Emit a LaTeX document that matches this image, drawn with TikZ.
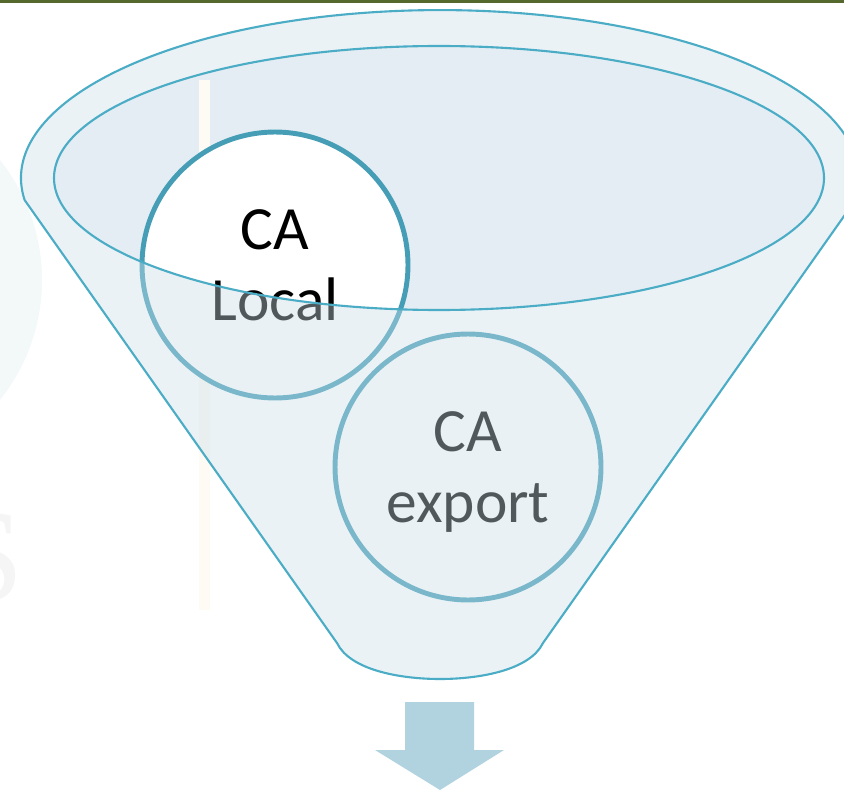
\documentclass[tikz,border=0pt]{standalone}
\usepackage{fontspec}
\setmainfont{Carlito}
\newfontfamily\wmfont{Liberation Serif}
\definecolor{topbar}{RGB}{85,104,45}
\definecolor{funnelline}{RGB}{75,172,198}
\definecolor{innerfill}{RGB}{228,237,243}
\definecolor{frontfill}{RGB}{202,222,232}
\definecolor{bubbleline}{RGB}{69,158,182}
\definecolor{arrowfill}{RGB}{176,211,223}
\definecolor{bgcircle}{RGB}{243,248,249}
\definecolor{faintletter}{RGB}{245,245,245}
\definecolor{faintbar}{RGB}{254,251,244}
\begin{document}
\begin{tikzpicture}[x=0.02cm,y=-0.02cm,
  rimline/.style={draw=funnelline, line width=1.2pt},
  bubble/.style={circle, draw=bubbleline, fill=white, line width=2.8pt,
    minimum size=5.32cm, inner sep=0pt, align=center,
    font=\fontsize{35}{40}\selectfont, text depth=0pt},
  downarrow/.style={fill=arrowfill}]
\useasboundingbox (0,0) rectangle (844,790);
\begin{scope}
\clip (0,0) rectangle (844,790);
% faint background decoration
\fill[bgcircle] (-150,280) circle (192);
\node[font=\wmfont\fontsize{75}{75}\selectfont, text=faintletter, inner sep=0pt] (wm) at (-13,558) {S};
% header rule
\fill[topbar] (0,0) rectangle (844,3);
% funnel opening
\fill[innerfill] (439,178) ellipse [x radius=385, y radius=132];
\fill[faintbar] (199,80) rectangle (210,610);
% items inside the funnel
\node[bubble] (local) at (275,265) {CA\\Local};
\node[bubble] (export) at (468,467) {CA\\export};
% translucent funnel body
\path[fill=frontfill, fill opacity=0.4, even odd rule]
  (24.6,200) arc[start angle=172.5, end angle=367.5, x radius=419, y radius=168]
  -- (543,643) .. controls (530,670) and (480,679) .. (440,679)
  .. controls (400,679) and (350,670) .. (337,643) -- cycle
  (439,178) ellipse [x radius=385, y radius=132];
\draw[rimline]
  (24.6,200) arc[start angle=172.5, end angle=367.5, x radius=419, y radius=168]
  -- (543,643) .. controls (530,670) and (480,679) .. (440,679)
  .. controls (400,679) and (350,670) .. (337,643) -- cycle;
\draw[rimline] (439,178) ellipse [x radius=385, y radius=132];
% output arrow
\fill[downarrow] (405,702) -- (474,702) -- (474,750) -- (504,750) -- (440,790)
  -- (375,750) -- (405,750) -- cycle;
\end{scope}
\end{tikzpicture}
\end{document}
